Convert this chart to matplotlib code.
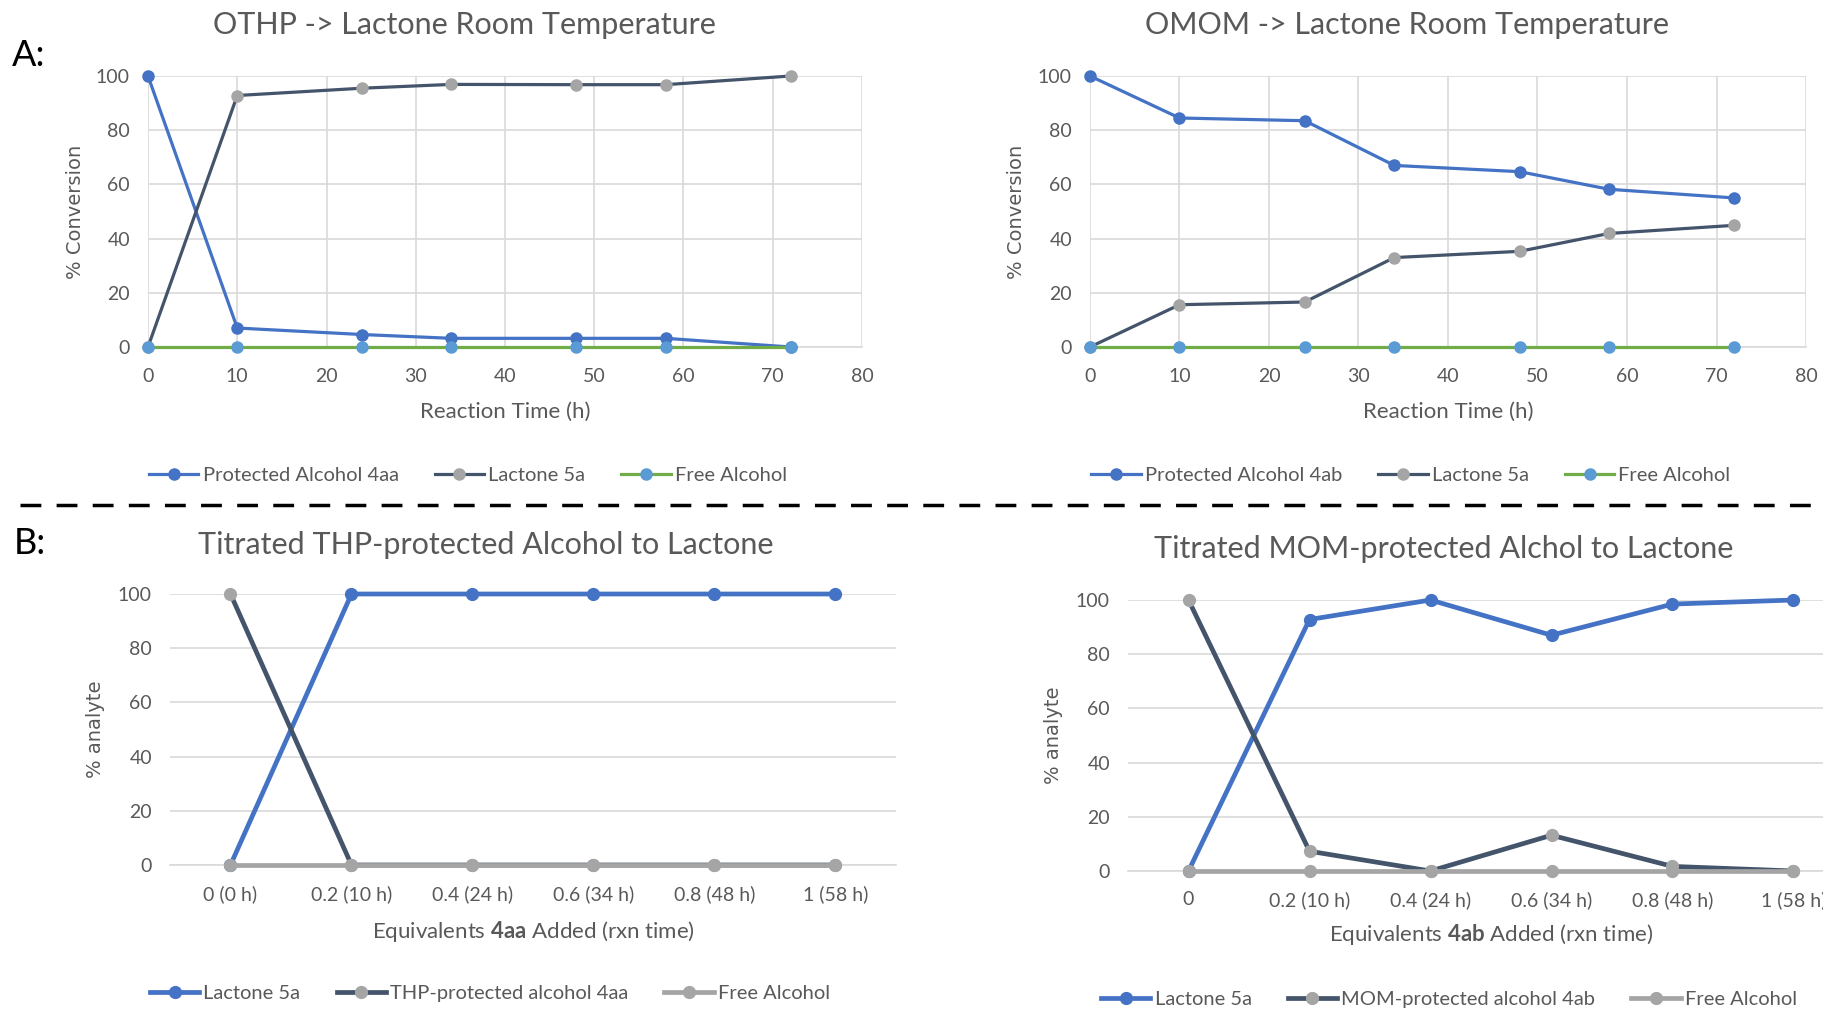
import matplotlib
matplotlib.use("Agg")
import matplotlib.pyplot as plt
from matplotlib.lines import Line2D

plt.rcParams['font.family'] = ['Lato', 'DejaVu Sans']
plt.rcParams['mathtext.fontset'] = 'custom'
plt.rcParams['mathtext.rm'] = 'Lato'
plt.rcParams['mathtext.bf'] = 'Lato:bold'

# ---- data ----
time_h = [0, 10, 24, 34, 48, 58, 72]
othp_protected = [100, 7.0, 4.6, 3.2, 3.2, 3.2, 0]
othp_lactone = [0, 92.8, 95.5, 96.9, 96.8, 96.8, 100]
othp_free = [0, 0, 0, 0, 0, 0, 0]

omom_protected = [100, 84.5, 83.5, 67.0, 64.7, 58.2, 55.0]
omom_lactone = [0, 15.6, 16.6, 33.0, 35.3, 41.9, 44.9]
omom_free = [0, 0, 0, 0, 0, 0, 0]

thp_labels = ["0 (0 h)", "0.2 (10 h)", "0.4 (24 h)", "0.6 (34 h)", "0.8 (48 h)", "1 (58 h)"]
thp_lactone = [0, 100, 100, 100, 100, 100]
thp_protected = [100, 0, 0, 0, 0, 0]
thp_free = [0, 0, 0, 0, 0, 0]

mom_labels = ["0", "0.2 (10 h)", "0.4 (24 h)", "0.6 (34 h)", "0.8 (48 h)", "1 (58 h)"]
mom_lactone = [0, 92.8, 100, 87.0, 98.5, 100]
mom_protected = [100, 7.3, 0, 13.2, 1.7, 0]
mom_free = [0, 0, 0, 0, 0, 0]

BLUE = '#4472C4'
DARK = '#44546A'
GRAY = '#A5A5A5'
GREEN = '#70AD47'
LBLUE = '#5B9BD5'
GRID = '#D9D9D9'
TXT = '#595959'

W, H = 1824, 1009
fig = plt.figure(figsize=(W / 100, H / 100), dpi=100)


def add_ax(x0, x1, ytop, ybot):
    return fig.add_axes([x0 / W, 1 - ybot / H, (x1 - x0) / W, (ybot - ytop) / H])


def style(ax, vgrid, xpad):
    for s in ax.spines.values():
        s.set_visible(False)
    ax.spines['bottom'].set_visible(True)
    ax.spines['bottom'].set_color(GRID)
    ax.spines['bottom'].set_linewidth(1.2)
    ax.grid(True, axis='y', color=GRID, linewidth=1.2)
    if vgrid:
        ax.grid(True, axis='x', color=GRID, linewidth=1.2)
    ax.set_axisbelow(True)
    ax.set_ylim(0, 100)
    ax.set_yticks([0, 20, 40, 60, 80, 100])
    ax.tick_params(length=0, colors=TXT, labelsize=14)
    ax.tick_params(axis='y', pad=13)
    ax.tick_params(axis='x', pad=xpad)


def set_labels(ax, xlab, ylab, xly):
    ax.set_xlabel(xlab, fontsize=16, color=TXT, va='center')
    ax.xaxis.set_label_coords(0.5, xly)
    ax.set_ylabel(ylab, fontsize=14, color=TXT, family='DejaVu Sans', va='center')
    ax.yaxis.set_label_coords(-0.102, 0.5)


# ---- A: room temperature ----
axA1 = add_ax(148, 862, 76, 347)
axA2 = add_ax(1090, 1806, 76, 347)
for ax, prot, lac, free, plab in [
        (axA1, othp_protected, othp_lactone, othp_free, 'Protected Alcohol 4aa'),
        (axA2, omom_protected, omom_lactone, omom_free, 'Protected Alcohol 4ab')]:
    style(ax, True, 15)
    ax.set_xlim(0, 80)
    ax.set_xticks(range(0, 81, 10))
    ax.plot(time_h, prot, color=BLUE, lw=2.3, marker='o', ms=8, mfc=BLUE, mec=BLUE,
            label=plab, clip_on=False, zorder=3)
    ax.plot(time_h, lac, color=DARK, lw=2.3, marker='o', ms=8, mfc=GRAY, mec=GRAY,
            label='Lactone 5a', clip_on=False, zorder=4)
    ax.plot(time_h, free, color=GREEN, lw=2.3, marker='o', ms=8, mfc=LBLUE, mec=LBLUE,
            label='Free Alcohol', clip_on=False, zorder=5)
    set_labels(ax, 'Reaction Time (h)', '% Conversion', -0.24)

fig.text(464 / W, 1 - 25 / H, 'OTHP -> Lactone Room Temperature', ha='center', va='center',
         fontsize=22, color=TXT)
fig.text(1407 / W, 1 - 25 / H, 'OMOM -> Lactone Room Temperature', ha='center', va='center',
         fontsize=22, color=TXT)

# ---- B: titration ----
axB1 = add_ax(170, 896, 594, 865)
axB2 = add_ax(1128, 1854, 600, 871)
for ax, labels, lac, prot, free, plab, bold, xly in [
        (axB1, thp_labels, thp_lactone, thp_protected, thp_free,
         'THP-protected alcohol 4aa', '4aa', -0.247),
        (axB2, mom_labels, mom_lactone, mom_protected, mom_free,
         'MOM-protected alcohol 4ab', '4ab', -0.236)]:
    style(ax, False, 14.5)
    x = list(range(len(labels)))
    ax.set_xlim(-0.5, len(labels) - 0.5)
    ax.set_xticks(x)
    ax.set_xticklabels(labels)
    ax.plot(x, lac, color=BLUE, lw=3.4, marker='o', ms=8.5, mfc=BLUE, mec=BLUE,
            label='Lactone 5a', clip_on=False, zorder=3)
    ax.plot(x, prot, color=DARK, lw=3.4, marker='o', ms=8.5, mfc=GRAY, mec=GRAY,
            label=plab, clip_on=False, zorder=4)
    ax.plot(x, free, color=GRAY, lw=3.4, marker='o', ms=8.5, mfc=GRAY, mec=GRAY,
            label='Free Alcohol', clip_on=False, zorder=5)
    set_labels(ax, 'Equivalents $\\bf{' + bold + '}$ Added (rxn time)', '% analyte', xly)

fig.text(486 / W, 1 - 545 / H, 'Titrated THP-protected Alcohol to Lactone', ha='center',
         va='center', fontsize=22, color=TXT)
fig.text(1444 / W, 1 - 549 / H, 'Titrated MOM-protected Alchol to Lactone', ha='center',
         va='center', fontsize=22, color=TXT)

# legends
for ax, cx, cy in [(axA1, 468, 475), (axA2, 1411, 475), (axB1, 490, 993), (axB2, 1449, 999)]:
    h, l = ax.get_legend_handles_labels()
    fig.legend(h, l, loc='center', bbox_to_anchor=(cx / W, 1 - cy / H), ncol=3,
               frameon=False, fontsize=14.5, labelcolor=TXT, handlelength=2.45,
               handletextpad=0.2, columnspacing=1.8, borderaxespad=0)

# panel letters and divider
fig.text(12 / W, 1 - 56 / H, 'A:', ha='left', va='center', fontsize=26, color='black')
fig.text(14 / W, 1 - 543 / H, 'B:', ha='left', va='center', fontsize=26, color='black')
fig.add_artist(Line2D([20 / W, 1], [1 - 505 / H, 1 - 505 / H], transform=fig.transFigure,
                      color='black', lw=2.5, linestyle=(0, (6, 4.4))))

fig.savefig('out.png', dpi=100, facecolor='white')
